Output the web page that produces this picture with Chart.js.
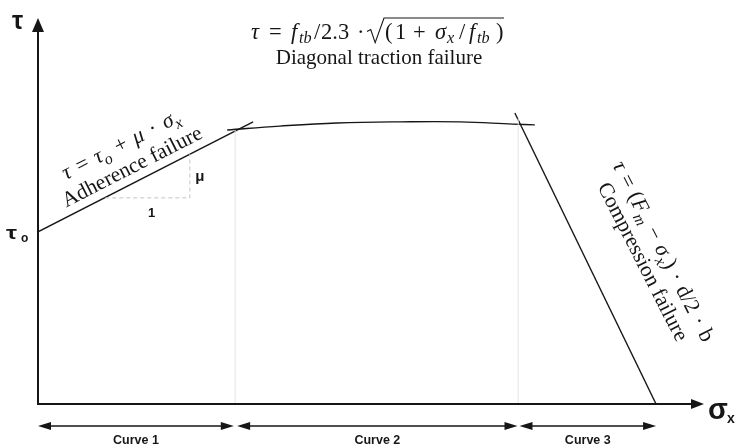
<!DOCTYPE html>
<html>
<head>
<meta charset="utf-8">
<script src="https://cdn.jsdelivr.net/npm/chart.js@4/dist/chart.umd.min.js"></script>
<style>
  html, body { margin: 0; padding: 0; background: #ffffff; }
  #wrap { width: 735px; height: 446px; }
</style>
</head>
<body>
<div id="wrap"><canvas id="c" width="735" height="446"></canvas></div>
<script>
// Failure envelope of shear stress τ against normal stress σx (arbitrary units, axes 0–100)

// Curve 1: adherence failure, straight line starting at τo
const adherenceX = [0, 32.3];
const adherenceY = [44.6, 73.1];

// Curve 2: diagonal traction failure, slightly domed plateau
const diagonalX = [28.4, 36.3, 44.9, 54.4, 63.4, 71.3, 74.6];
const diagonalY = [71.0, 72.0, 72.8, 73.1, 73.1, 72.5, 72.3];

// Curve 3: compression failure, falling to zero
const compressionX = [71.6, 92.8];
const compressionY = [75.4, 0];

// Boundaries between the three regimes
const boundaryX = [29.6, 72.1];
const boundaryTopY = [71.0, 74.0];

// Slope triangle under curve 1 (run 1, rise μ)
const slopeX = [10.1, 22.8, 22.8];
const slopeY = [53.4, 53.4, 64.8];

// Regime spans drawn below the σx axis
const spanStart = [0, 29.9, 72.3];
const spanEnd = [29.4, 72.0, 92.8];
const spanLabels = ['Curve 1', 'Curve 2', 'Curve 3'];

const toPts = (xs, ys) => xs.map((x, i) => ({ x, y: ys[i] }));

const INK = '#161616';
const SERIF = '"Liberation Serif", "DejaVu Serif", serif';
const SANS = '"Liberation Sans", Arial, sans-serif';

// Rich text: runs of normal / italic / subscript text, optional gaps (px) and a radical sign.
// A run may carry "at" (px from the start) to pin its position.
function layoutRich(ctx, parts, size, subDrop) {
  let w = 0;
  const items = [];
  for (const p of parts) {
    if (p.at !== undefined) w = p.at;
    if (p.gap) { w += p.gap; continue; }
    if (p.rad === 'open') { const rw = p.w || size * 0.62; items.push({ type: 'ro', x: w, w: rw }); w += rw; continue; }
    if (p.rad === 'close') { items.push({ type: 'rc', x: w }); continue; }
    const fs = p.s ? size * 0.72 : size;
    const font = (p.i ? 'italic ' : '') + fs + 'px ' + SERIF;
    ctx.font = font;
    const m = ctx.measureText(p.t).width;
    items.push({ type: 't', x: w, t: p.t, font, dy: p.s ? size * (subDrop || 0.24) : 0 });
    w += m;
  }
  return { w, items };
}

function drawRich(ctx, parts, cx, y, size, opts) {
  const o = opts || {};
  const { w, items } = layoutRich(ctx, parts, size, o.subDrop);
  const x0 = cx - (o.width || w) / 2;
  ctx.textAlign = 'left';
  ctx.textBaseline = 'alphabetic';
  let ro = null;
  for (const it of items) {
    if (it.type === 't') {
      ctx.font = it.font;
      ctx.fillText(it.t, x0 + it.x, y + it.dy);
    } else if (it.type === 'ro') {
      ro = { x: x0 + it.x, w: it.w };
    } else if (it.type === 'rc' && ro) {
      const b = x0 + it.x;
      const top = y - (o.radTop || size * 0.95);
      ctx.save();
      ctx.lineWidth = 1.1;
      ctx.beginPath();
      ctx.moveTo(ro.x, y - size * 0.33);
      ctx.lineTo(ro.x + ro.w * 0.22, y - size * 0.42);
      ctx.lineTo(ro.x + ro.w * 0.48, y + size * 0.16);
      ctx.lineTo(ro.x + ro.w, top);
      ctx.lineTo(b, top);
      ctx.stroke();
      ctx.restore();
    }
  }
}

function arrowHead(ctx, tipX, tipY, dirX, dirY, len, half) {
  const bx = tipX - dirX * len, by = tipY - dirY * len;
  const nx = -dirY, ny = dirX;
  ctx.beginPath();
  ctx.moveTo(tipX, tipY);
  ctx.lineTo(bx + nx * half, by + ny * half);
  ctx.lineTo(bx - nx * half, by - ny * half);
  ctx.closePath();
  ctx.fill();
}

const annotations = {
  id: 'annotations',
  afterDatasetsDraw(chart) {
    const { ctx, scales: { x, y } } = chart;
    const x0 = x.getPixelForValue(0), y0 = y.getPixelForValue(0);
    const xMax = x.getPixelForValue(100), yMax = y.getPixelForValue(100);
    ctx.save();
    ctx.fillStyle = INK;
    ctx.strokeStyle = INK;

    // axes with arrowheads
    ctx.lineWidth = 2;
    ctx.beginPath();
    ctx.moveTo(x0, y0 + 1);
    ctx.lineTo(x0, yMax + 12);
    ctx.moveTo(x0 - 1, y0);
    ctx.lineTo(xMax - 10, y0);
    ctx.stroke();
    arrowHead(ctx, x0, yMax, 0, -1, 14, 6);
    arrowHead(ctx, xMax, y0, 1, 0, 13, 5);

    // axis symbols
    ctx.textBaseline = 'alphabetic';
    ctx.textAlign = 'left';
    ctx.font = 'bold 25px ' + SANS;
    ctx.fillText('τ', 12, 29);
    ctx.font = 'bold 29px ' + SANS;
    ctx.fillText('σ', 708, 419);
    ctx.font = 'bold 14px ' + SANS;
    ctx.fillText('x', 727, 423);

    // τo on the vertical axis
    const tauPix = y.getPixelForValue(adherenceY[0]);
    ctx.save();
    ctx.translate(6, tauPix + 7);
    ctx.scale(1.3, 1);
    ctx.font = 'bold 19px ' + SANS;
    ctx.fillText('τ', 0, 0);
    ctx.restore();
    ctx.font = 'bold 12px ' + SANS;
    ctx.fillText('o', 21, tauPix + 10);

    // slope triangle labels
    ctx.textAlign = 'center';
    ctx.font = 'bold 15px ' + SANS;
    ctx.fillText('μ', x.getPixelForValue(slopeX[2]) + 10, y.getPixelForValue((slopeY[1] + slopeY[2]) / 2) + 5);
    ctx.font = 'bold 13px ' + SANS;
    ctx.fillText('1', x.getPixelForValue((slopeX[0] + slopeX[1]) / 2) + 4, y.getPixelForValue(slopeY[0]) + 19);

    // regime spans under the axis
    const spanY = y0 + 22;
    ctx.lineWidth = 1.4;
    spanLabels.forEach((lab, i) => {
      const a = x.getPixelForValue(spanStart[i]);
      const b = x.getPixelForValue(spanEnd[i]);
      ctx.beginPath();
      ctx.moveTo(a + 6, spanY);
      ctx.lineTo(b - 6, spanY);
      ctx.stroke();
      arrowHead(ctx, a, spanY, -1, 0, 13, 4);
      arrowHead(ctx, b, spanY, 1, 0, 13, 4);
      ctx.font = 'bold 12.5px ' + SANS;
      ctx.textAlign = 'center';
      ctx.fillText(lab, (a + b) / 2, spanY + 18);
    });

    // diagonal traction formula (top), math-style spacing
    drawRich(ctx, [
      { t: 'τ', i: true, at: 0 }, { t: '=', at: 18 }, { t: 'f', i: true, at: 40 }, { t: 'tb', i: true, s: true, at: 48 },
      { t: '/', at: 63 }, { t: '2.3', at: 70 }, { t: '·', at: 106 }, { rad: 'open', at: 116, w: 17 }, { t: '(', at: 134 },
      { t: '1', at: 144 }, { t: '+', at: 162 }, { t: 'σ', i: true, at: 184 }, { t: 'x', i: true, s: true, at: 196 },
      { t: '/', at: 208 }, { t: 'f', i: true, at: 218 }, { t: 'tb', i: true, s: true, at: 226 },
      { t: ')', at: 245 }, { rad: 'close', at: 253 }
    ], 379, 39, 22.5, { width: 256, radTop: 21, subDrop: 0.18 });
    drawRich(ctx, [{ t: 'Diagonal traction failure' }], 379, 64, 21);

    // adherence formula along curve 1
    ctx.save();
    ctx.translate(135, 172.4);
    ctx.rotate(-27 * Math.PI / 180);
    drawRich(ctx, [
      { t: 'τ', i: true }, { gap: 2 }, { t: ' = ' }, { gap: 2 }, { t: 'τ', i: true }, { t: 'o', i: true, s: true },
      { gap: 2 }, { t: ' + ' }, { gap: 2 }, { t: 'μ', i: true }, { gap: 2 }, { t: ' · ' }, { gap: 2 },
      { t: 'σ', i: true }, { t: 'x', i: true, s: true }
    ], 0, -24.5, 22);
    drawRich(ctx, [{ t: 'Adherence failure' }], 0, 0, 21.5);
    ctx.restore();

    // compression formula beside curve 3
    ctx.save();
    ctx.translate(637, 264.8);
    ctx.rotate(63 * Math.PI / 180);
    drawRich(ctx, [
      { t: 'τ', i: true }, { gap: 1.5 }, { t: ' = ' }, { gap: 1.5 }, { t: '(' }, { t: 'F', i: true }, { t: 'm', i: true, s: true },
      { gap: 1.5 }, { t: ' − ' }, { gap: 1.5 }, { t: 'σ', i: true }, { t: 'x', i: true, s: true }, { t: ')' },
      { gap: 1.5 }, { t: ' · ' }, { gap: 1.5 }, { t: 'd/2' }, { gap: 1.5 }, { t: ' · ' }, { gap: 1.5 }, { t: 'b' }
    ], 0, -23, 22);
    drawRich(ctx, [{ t: 'Compression failure' }], 0, 0, 21.5);
    ctx.restore();

    ctx.restore();
  }
};

const lineStyle = { showLine: true, pointRadius: 0, borderColor: INK, borderWidth: 1.4, fill: false };

new Chart(document.getElementById('c'), {
  type: 'scatter',
  data: {
    datasets: [
      { label: 'boundary 1', data: [{ x: boundaryX[0], y: 0 }, { x: boundaryX[0], y: boundaryTopY[0] }],
        showLine: true, pointRadius: 0, borderColor: '#e4e4e4', borderWidth: 1 },
      { label: 'boundary 2', data: [{ x: boundaryX[1], y: 0 }, { x: boundaryX[1], y: boundaryTopY[1] }],
        showLine: true, pointRadius: 0, borderColor: '#e4e4e4', borderWidth: 1 },
      { label: 'slope', data: toPts(slopeX, slopeY),
        showLine: true, pointRadius: 0, borderColor: '#c4c4c4', borderWidth: 1, borderDash: [4, 3] },
      { label: 'Adherence failure', data: toPts(adherenceX, adherenceY), ...lineStyle },
      { label: 'Diagonal traction failure', data: toPts(diagonalX, diagonalY), ...lineStyle, tension: 0.4 },
      { label: 'Compression failure', data: toPts(compressionX, compressionY), ...lineStyle }
    ]
  },
  options: {
    responsive: false,
    animation: false,
    devicePixelRatio: 1,
    layout: { padding: { left: 38, right: 31, top: 18, bottom: 42 } },
    plugins: { legend: { display: false }, tooltip: { enabled: false } },
    scales: {
      x: { type: 'linear', min: 0, max: 100, display: false },
      y: { type: 'linear', min: 0, max: 100, display: false }
    }
  },
  plugins: [annotations]
});
</script>
</body>
</html>
